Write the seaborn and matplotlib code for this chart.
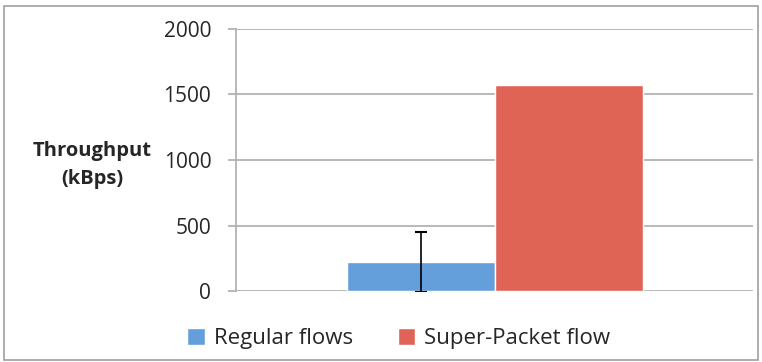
import matplotlib
matplotlib.use("Agg")
import matplotlib.pyplot as plt
import seaborn as sns
import pandas as pd
from matplotlib.patches import Rectangle

series = ["Regular flows", "Super-Packet flow"]
values = [222, 1572]
errors = [230, 0]
yticks = [0, 500, 1000, 1500, 2000]
colors = ["#659FDB", "#E06455"]

sns.set_theme(style="white")
plt.rcParams['font.family'] = ['Open Sans', 'DejaVu Sans']

df = pd.DataFrame({"cat": ["g", "g"], "series": series, "value": values})

fig = plt.figure(figsize=(7.62, 3.62), dpi=100)
ax = fig.add_axes([0.310, 0.196, 0.678, 0.724])

sns.barplot(data=df, x="cat", y="value", hue="series", palette=colors,
            width=0.573, errorbar=None, saturation=1, ax=ax, legend=True)

for p, err in zip(ax.patches[:len(series)], errors):
    if err > 0:
        cx = p.get_x() + p.get_width() / 2
        ax.errorbar(cx, p.get_height(), yerr=err, fmt="none", ecolor="black",
                    elinewidth=1.2, capsize=4, capthick=1.5, zorder=5)

ax.set_xlim(-0.5, 0.5)
ax.set_ylim(0, 2000)
ax.set_yticks(yticks)
ax.set_yticklabels([str(t) for t in yticks], fontsize=15)
ax.set_xticks([])
ax.set_xlabel("")
ax.set_ylabel("Throughput\n(kBps)", rotation=0, fontsize=14.5, fontweight="bold",
              ha="center", va="center", labelpad=0, linespacing=1.5)
ax.yaxis.set_label_coords(-0.279, 0.48)

ax.grid(axis="y", color="#B3B3B3", linewidth=1.3)
ax.set_axisbelow(True)
for s in ["top", "right", "bottom"]:
    ax.spines[s].set_visible(False)
ax.spines["left"].set_color("#B3B3B3")
ax.spines["left"].set_linewidth(1.3)
ax.tick_params(axis="y", left=True, length=6, color="#B3B3B3", width=1.3, pad=12)

leg = ax.legend(loc="upper center", bbox_to_anchor=(0.315, -0.065), ncol=2,
                frameon=False, fontsize=16, handlelength=0.8, handleheight=0.8,
                columnspacing=2.0, handletextpad=0.4)

fig.add_artist(Rectangle((0.005, 0.005), 0.99, 0.978, transform=fig.transFigure,
                         fill=False, edgecolor="#A0A0A0", linewidth=1.2))

fig.savefig("out.png", dpi=100)
